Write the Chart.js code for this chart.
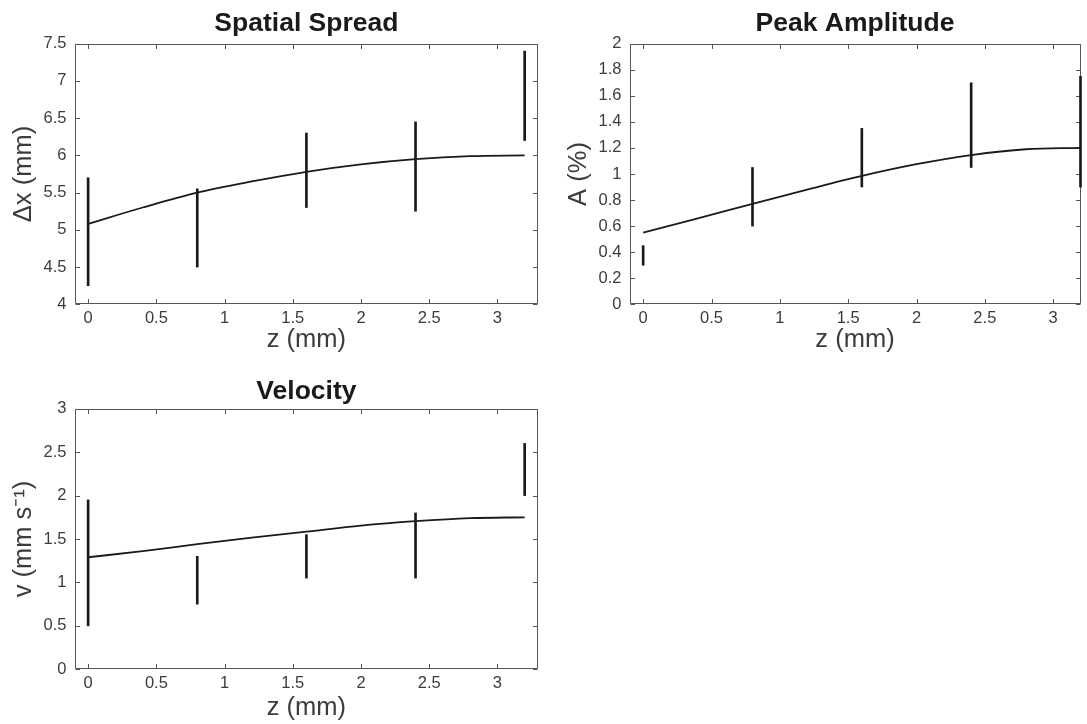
<!DOCTYPE html>
<html>
<head>
<meta charset="utf-8">
<title>Spread, amplitude and velocity vs depth</title>
<script src="https://cdn.jsdelivr.net/npm/chart.js@4/dist/chart.umd.min.js"></script>
<style>
  html, body {
    margin: 0;
    padding: 0;
    background: #fff;
    width: 1087px;
    height: 724px;
    overflow: hidden;
  }
  canvas {
    position: absolute;
  }
  #spread { left: 0; top: 0; }
  #amp { left: 555px; top: 0; }
  #vel { left: 0; top: 365px; }
</style>
</head>
<body>
<canvas id="spread" width="545" height="360"></canvas>
<canvas id="amp" width="532" height="360"></canvas>
<canvas id="vel" width="545" height="360"></canvas>
<script>
// depth of each measurement and of the fitted curve samples (mm)
const zMeasured = [0, 0.8, 1.6, 2.4, 3.2];
const zFit = [0, 0.4, 0.8, 1.2, 1.6, 2.0, 2.4, 2.8, 3.2];
const zTicks = [0, 0.5, 1, 1.5, 2, 2.5, 3];

// spatial spread, dx (mm)
const spreadLow = [4.25, 4.5, 5.3, 5.25, 6.2];
const spreadHigh = [5.7, 5.55, 6.3, 6.45, 7.4];
const spreadFit = [5.08, 5.3, 5.5, 5.65, 5.78, 5.88, 5.95, 5.99, 6.0];
const spreadTicks = [4, 4.5, 5, 5.5, 6, 6.5, 7, 7.5];

// peak amplitude, A (%)
const ampLow = [0.3, 0.6, 0.9, 1.05, 0.9];
const ampHigh = [0.45, 1.05, 1.35, 1.7, 1.75];
const ampFit = [0.55, 0.66, 0.77, 0.88, 0.985, 1.075, 1.145, 1.19, 1.2];
const ampTicks = [0, 0.2, 0.4, 0.6, 0.8, 1, 1.2, 1.4, 1.6, 1.8, 2];

// velocity, v (mm/s)
const velLow = [0.5, 0.75, 1.05, 1.05, 2.0];
const velHigh = [1.95, 1.3, 1.55, 1.8, 2.6];
const velFit = [1.29, 1.36, 1.44, 1.515, 1.585, 1.655, 1.705, 1.74, 1.75];
const velTicks = [0, 0.5, 1, 1.5, 2, 2.5, 3];

const FONT = 'Helvetica, "Liberation Sans", Arial, sans-serif';
const INK = '#1a1a1a';
const AXIS = '#555555';
const LABEL = '#3c3c3c';
const TICK_LEN = 4.5;

// MATLAB-style boxed axes with inward ticks on all four sides
const boxedAxes = {
  id: 'boxedAxes',
  beforeDatasetsDraw(chart) {
    const { ctx, chartArea: a, scales: { x, y } } = chart;
    const l = Math.round(a.left) + 0.5;
    const r = Math.round(a.right) - 0.5;
    const t = Math.round(a.top) + 0.5;
    const b = Math.round(a.bottom) - 0.5;
    ctx.save();
    ctx.strokeStyle = AXIS;
    ctx.lineWidth = 1;
    ctx.beginPath();
    ctx.rect(l, t, r - l, b - t);
    x.ticks.forEach(tick => {
      const px = Math.round(x.getPixelForValue(tick.value)) + 0.5;
      ctx.moveTo(px, b);
      ctx.lineTo(px, b - TICK_LEN);
      ctx.moveTo(px, t);
      ctx.lineTo(px, t + TICK_LEN);
    });
    y.ticks.forEach(tick => {
      const py = Math.round(y.getPixelForValue(tick.value)) + 0.5;
      ctx.moveTo(l, py);
      ctx.lineTo(l + TICK_LEN, py);
      ctx.moveTo(r, py);
      ctx.lineTo(r - TICK_LEN, py);
    });
    ctx.stroke();
    ctx.restore();
  }
};

const fixedTicks = values => scale => {
  scale.ticks = values.map(value => ({ value }));
};

const makePanel = (id, opts) => {
  const { title, yLabel, low, high, fit, yTicks, xMax, rightPad, titlePad, xTitlePad } = opts;

  new Chart(document.getElementById(id), {
    type: 'bar',
    data: {
      datasets: [
        {
          type: 'bar',
          data: zMeasured.map((z, i) => ({ x: z, y: [low[i], high[i]] })),
          backgroundColor: INK,
          borderWidth: 0,
          barThickness: 2,
          grouped: false,
          clip: false
        },
        {
          type: 'line',
          data: zFit.map((z, i) => ({ x: z, y: fit[i] })),
          borderColor: INK,
          borderWidth: 1.8,
          pointRadius: 0,
          fill: false,
          cubicInterpolationMode: 'monotone',
          clip: false
        }
      ]
    },
    options: {
      responsive: false,
      animation: false,
      events: [],
      devicePixelRatio: 1,
      layout: {
        padding: { left: 0, right: rightPad, top: 0, bottom: 0 }
      },
      plugins: {
        legend: { display: false },
        tooltip: { enabled: false },
        title: {
          display: true,
          text: title,
          fullSize: false,
          color: INK,
          font: { family: FONT, size: 26.5, weight: 'bold' },
          padding: titlePad
        }
      },
      scales: {
        x: {
          type: 'linear',
          min: -0.1,
          max: xMax,
          offset: false,
          grid: { display: false, drawTicks: false },
          border: { display: false },
          afterBuildTicks: fixedTicks(zTicks),
          afterFit: scale => { scale.height = 55.7; },
          ticks: {
            color: LABEL,
            padding: 4.5,
            maxRotation: 0,
            font: { family: FONT, size: 16.5 },
            callback: value => String(value)
          },
          title: {
            display: true,
            text: 'z (mm)',
            color: LABEL,
            font: { family: FONT, size: 25.5 },
            padding: { top: 0, bottom: xTitlePad }
          }
        },
        y: {
          type: 'linear',
          min: yTicks[0],
          max: yTicks[yTicks.length - 1],
          grid: { display: false, drawTicks: false },
          border: { display: false },
          afterBuildTicks: fixedTicks(yTicks),
          afterFit: scale => { scale.width = 74.5; },
          ticks: {
            color: LABEL,
            padding: 8,
            font: { family: FONT, size: 16.5 },
            callback: value => String(value)
          },
          title: {
            display: true,
            text: yLabel,
            color: LABEL,
            font: { family: FONT, size: 25.5 },
            padding: { top: 8.7, bottom: 0 }
          }
        }
      }
    },
    plugins: [boxedAxes]
  });
};

makePanel('spread', {
  title: 'Spatial Spread',
  yLabel: 'Δx (mm)',
  low: spreadLow,
  high: spreadHigh,
  fit: spreadFit,
  yTicks: spreadTicks,
  xMax: 3.3,
  rightPad: 6.7,
  titlePad: { top: 7.8, bottom: 4.1 },
  xTitlePad: 4.7
});

makePanel('amp', {
  title: 'Peak Amplitude',
  yLabel: 'A (%)',
  low: ampLow,
  high: ampHigh,
  fit: ampFit,
  yTicks: ampTicks,
  xMax: 3.2,
  rightPad: 6.5,
  titlePad: { top: 7.8, bottom: 4.1 },
  xTitlePad: 4.7
});

makePanel('vel', {
  title: 'Velocity',
  yLabel: 'v (mm s⁻¹)',
  low: velLow,
  high: velHigh,
  fit: velFit,
  yTicks: velTicks,
  xMax: 3.3,
  rightPad: 6.7,
  titlePad: { top: 10.5, bottom: 1.4 },
  xTitlePad: 2.1
});
</script>
</body>
</html>
